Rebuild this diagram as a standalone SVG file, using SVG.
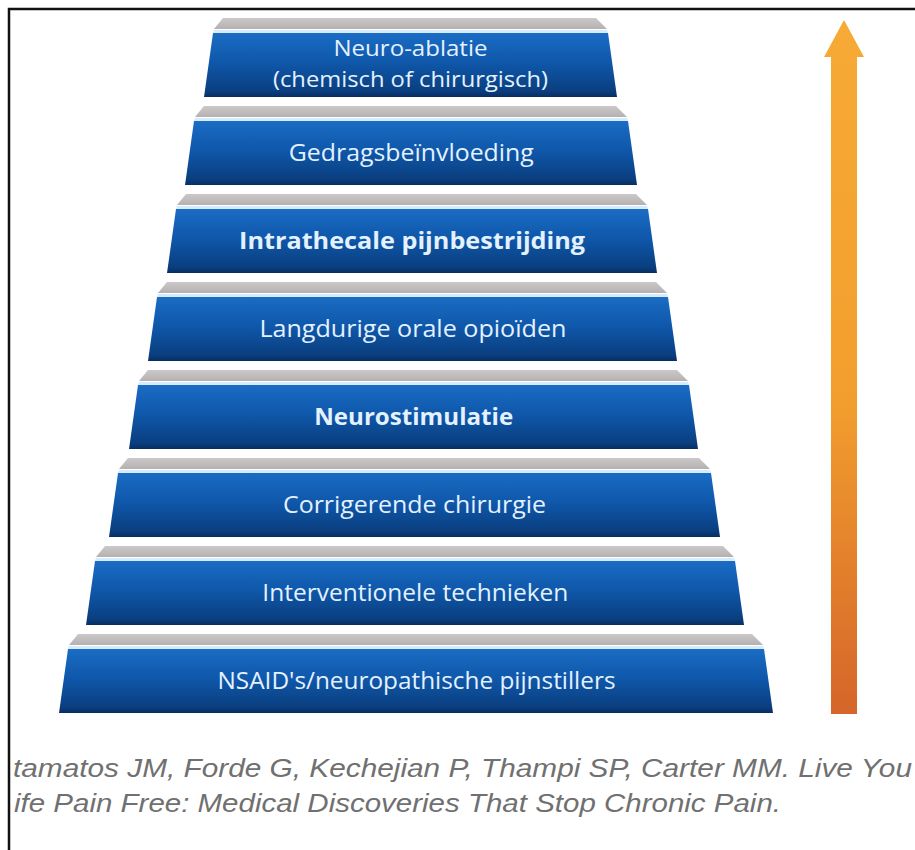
<svg xmlns="http://www.w3.org/2000/svg" width="915" height="850" viewBox="0 0 915 850">
<defs>
<linearGradient id="blueFace" x1="0" y1="0" x2="0" y2="1">
<stop offset="0" stop-color="#1a6cc4"/>
<stop offset="0.45" stop-color="#0f58ab"/>
<stop offset="0.9" stop-color="#0a3f80"/>
<stop offset="1" stop-color="#072e62"/>
</linearGradient>
<linearGradient id="grayTop" x1="0" y1="0" x2="0" y2="1">
<stop offset="0" stop-color="#cdc8c8"/>
<stop offset="1" stop-color="#b5b0b1"/>
</linearGradient>
<linearGradient id="arrowGrad" x1="0" y1="0" x2="0" y2="1">
<stop offset="0" stop-color="#f7aa35"/>
<stop offset="0.55" stop-color="#f29e2e"/>
<stop offset="1" stop-color="#d5652a"/>
</linearGradient>
</defs>
<style>
.face{fill:url(#blueFace);}
.top{fill:url(#grayTop);}
.hl{fill:#d6ecfa;}
.lbl{font-family:"Open Sans","Noto Sans",sans-serif;font-size:23.5px;fill:#e4f1ff;text-anchor:middle;}
.sm{font-size:22px;}
.b{font-weight:bold;}
.cite{font-family:"Liberation Sans",Arial,sans-serif;font-style:italic;font-size:26px;fill:#707070;}
</style>
<rect width="915" height="850" fill="#ffffff"/>
<path d="M9,850 V9 H915" fill="none" stroke="#111" stroke-width="2.5"/>

<g id="step1">
<polygon class="top" points="223,18 596,18 607,29 214,29"/>
<polygon class="hl" points="214,30 607,30 608,33 213,33"/>
<polygon class="face" points="213,33 608,33 617,97 204,97"/>
<text class="lbl sm" x="410.5" y="56" textLength="154" lengthAdjust="spacingAndGlyphs">Neuro-ablatie</text>
<text class="lbl sm" x="410.5" y="87" textLength="275" lengthAdjust="spacingAndGlyphs">(chemisch of chirurgisch)</text>
</g>

<g id="step2">
<polygon class="top" points="204,106 616,106 627,117 195,117"/>
<polygon class="hl" points="195,118 627,118 628,121 194,121"/>
<polygon class="face" points="194,121 628,121 637,185 185,185"/>
<text class="lbl" x="411.3" y="161" textLength="245" lengthAdjust="spacingAndGlyphs">Gedragsbeïnvloeding</text>
</g>

<g id="step3">
<polygon class="top" points="186,194 636,194 647,205 177,205"/>
<polygon class="hl" points="177,206 647,206 648,209 176,209"/>
<polygon class="face" points="176,209 648,209 657,273 167,273"/>
<text class="lbl b" x="412.1" y="249" textLength="346" lengthAdjust="spacingAndGlyphs">Intrathecale pijnbestrijding</text>
</g>

<g id="step4">
<polygon class="top" points="167,282 656,282 667,293 158,293"/>
<polygon class="hl" points="158,294 667,294 668,297 157,297"/>
<polygon class="face" points="157,297 668,297 677,361 148,361"/>
<text class="lbl" x="412.9" y="337" textLength="307" lengthAdjust="spacingAndGlyphs">Langdurige orale opioïden</text>
</g>

<g id="step5">
<polygon class="top" points="148,370 677,370 688,381 139,381"/>
<polygon class="hl" points="139,382 688,382 689,385 138,385"/>
<polygon class="face" points="138,385 689,385 698,449 129,449"/>
<text class="lbl b" x="413.7" y="425" textLength="199" lengthAdjust="spacingAndGlyphs">Neurostimulatie</text>
</g>

<g id="step6">
<polygon class="top" points="128,458 699,458 710,469 119,469"/>
<polygon class="hl" points="119,470 710,470 711,473 118,473"/>
<polygon class="face" points="118,473 711,473 720,537 109,537"/>
<text class="lbl" x="414.5" y="513" textLength="263" lengthAdjust="spacingAndGlyphs">Corrigerende chirurgie</text>
</g>

<g id="step7">
<polygon class="top" points="105,546 723,546 734,557 96,557"/>
<polygon class="hl" points="96,558 734,558 735,561 95,561"/>
<polygon class="face" points="95,561 735,561 744,625 86,625"/>
<text class="lbl" x="415.3" y="601" textLength="306" lengthAdjust="spacingAndGlyphs">Interventionele technieken</text>
</g>

<g id="step8">
<polygon class="top" points="78,634 752,634 763,645 69,645"/>
<polygon class="hl" points="69,646 763,646 764,649 68,649"/>
<polygon class="face" points="68,649 764,649 773,713 59,713"/>
<text class="lbl" x="416.5" y="689" textLength="398" lengthAdjust="spacingAndGlyphs">NSAID's/neuropathische pijnstillers</text>
</g>

<g id="arrow">
<polygon points="844,20 864,57 857,57 857,714 831,714 831,57 824,57" fill="url(#arrowGrad)"/>
</g>

<g id="citation">
<text class="cite" x="13" y="777" textLength="899" lengthAdjust="spacingAndGlyphs">tamatos JM, Forde G, Kechejian P, Thampi SP, Carter MM. Live You</text>
<text class="cite" x="14" y="812" textLength="767" lengthAdjust="spacingAndGlyphs">ife Pain Free: Medical Discoveries That Stop Chronic Pain.</text>
</g>
</svg>
